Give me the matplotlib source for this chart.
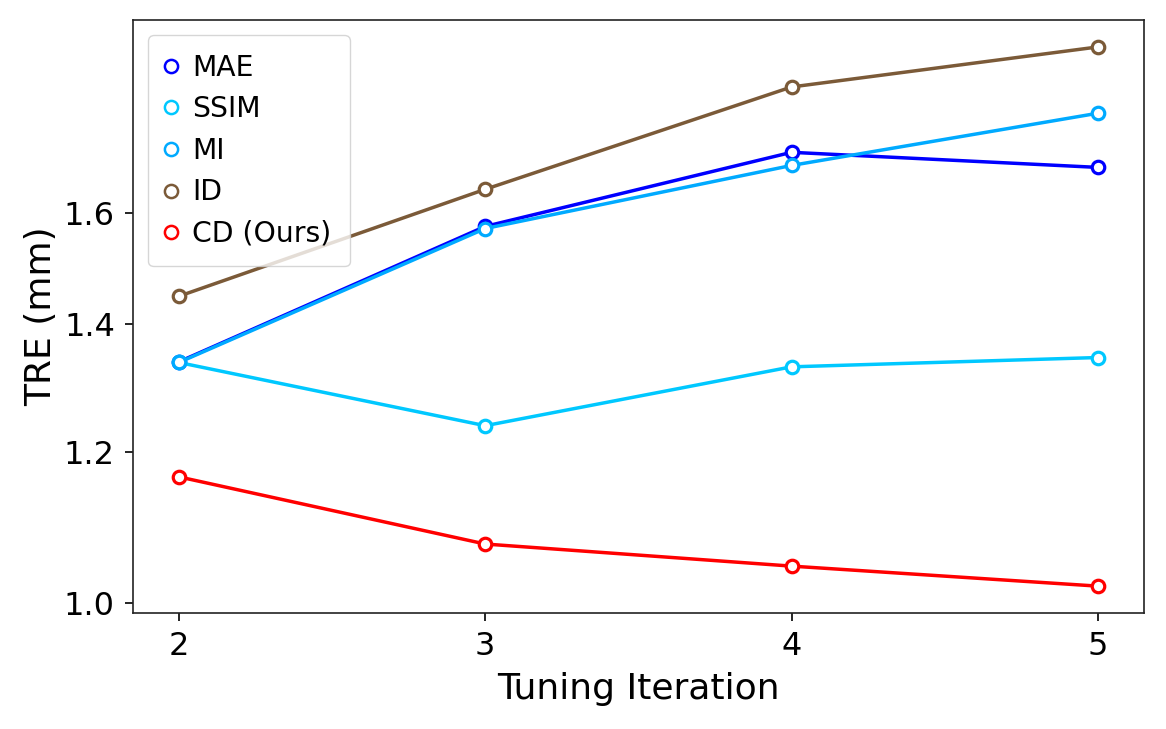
import matplotlib
matplotlib.use("Agg")
import matplotlib.pyplot as plt
from matplotlib.lines import Line2D
from matplotlib.ticker import FixedLocator, NullLocator, FixedFormatter

iterations = [2, 3, 4, 5]
mae = [1.337, 1.574, 1.721, 1.690]
ssim = [1.336, 1.238, 1.329, 1.344]
mi = [1.336, 1.570, 1.694, 1.804]
id_ = [1.447, 1.646, 1.862, 1.954]
cd = [1.164, 1.0735, 1.0453, 1.0204]

labels = ["MAE", "SSIM", "MI", "ID", "CD (Ours)"]
colors = ["#0000ff", "#00c8ff", "#00aaff", "#7b5a38", "#ff0000"]
series = [mae, ssim, mi, id_, cd]

yticks = [1.0, 1.2, 1.4, 1.6]
ytick_labels = ["1.0", "1.2", "1.4", "1.6"]

fig = plt.figure(figsize=(11.66, 7.29), dpi=100)
ax = fig.add_axes([0.114, 0.159, 0.867, 0.8136])

for vals, c in zip(series, colors):
    ax.plot(iterations, vals, color=c, linewidth=2.5, marker="o", markersize=9,
            markerfacecolor="white", markeredgecolor=c, markeredgewidth=2.3)

ax.set_yscale("log")
ax.yaxis.set_major_locator(FixedLocator(yticks))
ax.yaxis.set_major_formatter(FixedFormatter(ytick_labels))
ax.yaxis.set_minor_locator(NullLocator())
ax.set_xticks(iterations)

ax.tick_params(labelsize=23, length=6, width=1.2, pad=7)
ax.set_xlabel("Tuning Iteration", fontsize=26, labelpad=7)
ax.set_ylabel("TRE (mm)", fontsize=26)
for s in ax.spines.values():
    s.set_linewidth(1.2)
    s.set_color("#222222")

handles = [Line2D([], [], linestyle="none", marker="o", markersize=9.5,
                  markerfacecolor="white", markeredgecolor=c, markeredgewidth=1.8)
           for c in colors]
ax.legend(handles, labels, loc="upper left", fontsize=20.3, handletextpad=0.6,
          handlelength=0.3, borderpad=0.65, labelspacing=0.48, framealpha=0.8,
          borderaxespad=0.55)

fig.savefig("out.png", dpi=100)
